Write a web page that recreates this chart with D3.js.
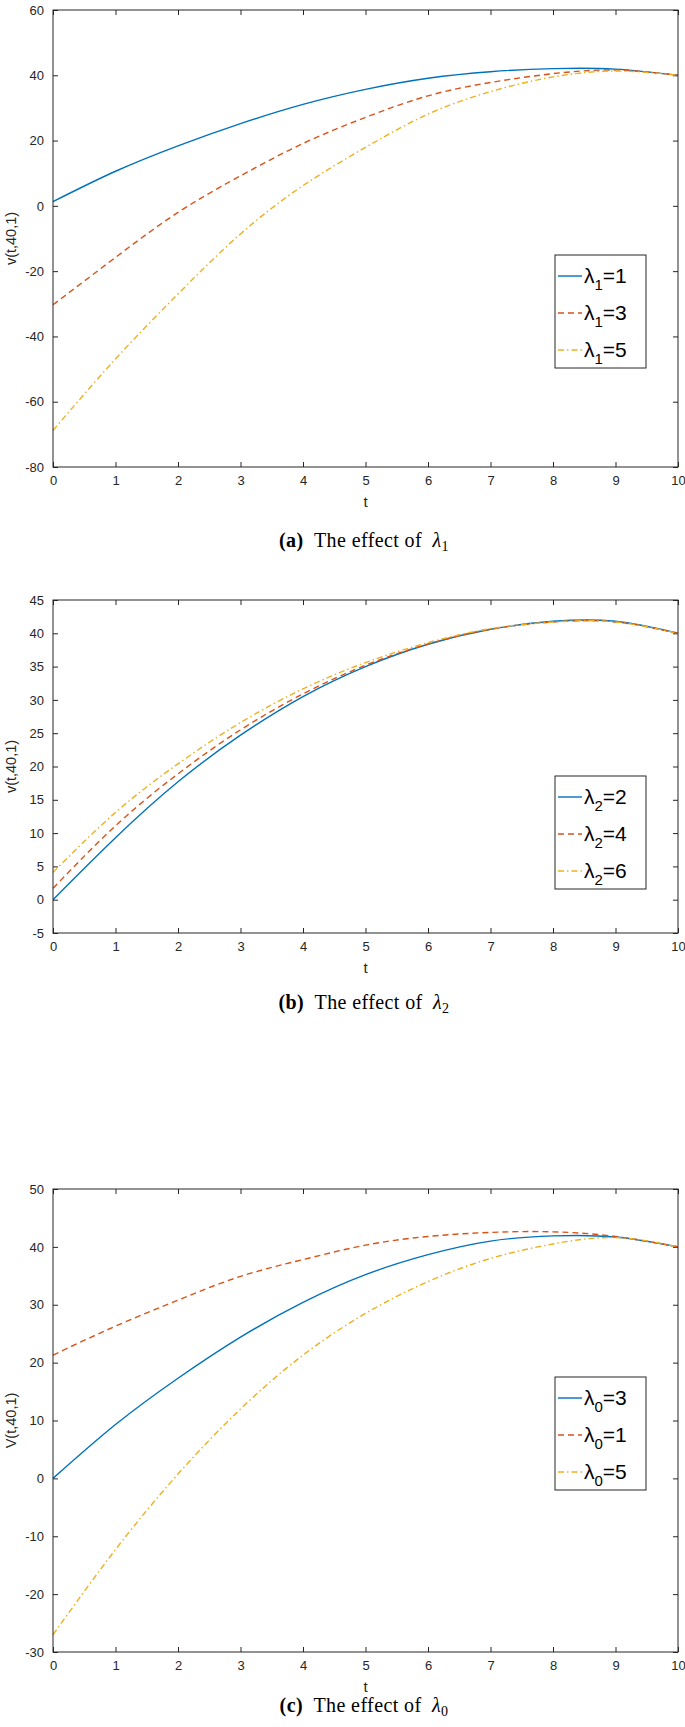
<!DOCTYPE html>
<html><head><meta charset="utf-8">
<script src="https://cdn.jsdelivr.net/npm/d3@7"></script>
<style>
body{margin:0;background:#fff;}
svg{display:block;}
</style></head>
<body>
<script>
// ---------- data ----------
const tValues = [0,1,2,3,4,5,6,7,8,9,10];
const xTicks = [0,1,2,3,4,5,6,7,8,9,10];

// panel (a): effect of lambda1
const aBlue   = [1.3, 10.6, 18.4, 25.2, 31.1, 35.7, 39.1, 41.1, 42.05, 41.9, 40.0];
const aRed    = [-30.3, -15.8, -2.0, 9.2, 19.1, 27.1, 33.7, 37.8, 40.5, 41.6, 40.0];
const aYellow = [-68.8, -46.9, -27.0, -8.6, 6.2, 17.9, 28.1, 35.0, 39.5, 41.3, 40.0];
const aYTicks = [-80,-60,-40,-20,0,20,40,60];
const aLegend = ["1","3","5"];

// panel (b): effect of lambda2
const bBlue   = [0.0, 9.3, 17.7, 24.7, 30.5, 35.0, 38.35, 40.6, 41.8, 41.8, 40.0];
const bRed    = [1.7, 11.1, 18.9, 25.5, 30.9, 35.2, 38.4, 40.6, 41.7, 41.7, 40.0];
const bYellow = [4.1, 13.1, 20.4, 26.6, 31.65, 35.6, 38.6, 40.7, 41.7, 41.7, 40.0];
const bYTicks = [-5,0,5,10,15,20,25,30,35,40,45];
const bLegend = ["2","4","6"];

// panel (c): effect of lambda0
const cBlue   = [0.0, 9.3, 17.3, 24.4, 30.4, 35.2, 38.65, 41.0, 41.9, 41.7, 40.0];
const cRed    = [21.3, 26.3, 30.8, 34.9, 37.8, 40.3, 41.8, 42.5, 42.6, 41.8, 40.0];
const cYellow = [-27.0, -12.3, 0.75, 12.0, 21.3, 28.5, 34.0, 38.0, 40.5, 41.6, 40.0];
const cYTicks = [-30,-20,-10,0,10,20,30,40,50];
const cLegend = ["3","1","5"];

const colors = ["#0072BD","#D95319","#EDB120"];
const dashes = [null, "6,4", "6,3,1.5,3"];

const W = 685, H = 1727;
const svg = d3.select("body").append("svg").attr("width",W).attr("height",H)
  .attr("font-family","'Liberation Sans', Arial, sans-serif");

function panel(o){
  const x = d3.scaleLinear().domain([0,10]).range([53, 678]);
  const y = d3.scaleLinear().domain([o.yTicks[0], o.yTicks[o.yTicks.length-1]]).range([o.bottom, o.top]);
  const g = svg.append("g");
  const fmt = d => String(d);

  const ax = g.append("g").attr("transform",`translate(0,${o.bottom})`)
    .call(d3.axisBottom(x).tickValues(xTicks).tickSize(-5).tickPadding(9).tickFormat(fmt));
  const axT = g.append("g").attr("transform",`translate(0,${o.top})`)
    .call(d3.axisTop(x).tickValues(xTicks).tickSize(-5).tickFormat(""));
  const ay = g.append("g").attr("transform",`translate(53,0)`)
    .call(d3.axisLeft(y).tickValues(o.yTicks).tickSize(-5).tickPadding(9).tickFormat(fmt));
  const ayR = g.append("g").attr("transform",`translate(678,0)`)
    .call(d3.axisRight(y).tickValues(o.yTicks).tickSize(-5).tickFormat(""));
  [ax,axT,ay,ayR].forEach(a=>{
    a.select(".domain").remove();
    a.selectAll("line").attr("stroke","#262626").attr("stroke-width",1);
    a.selectAll("text").attr("fill","#262626").attr("font-size",13).attr("font-family","'Liberation Sans', Arial, sans-serif");
  });

  const line = d3.line().x((d,i)=>x(tValues[i])).y(d=>y(d)).curve(d3.curveNatural);
  o.series.forEach((s,i)=>{
    g.append("path").datum(s).attr("d",line).attr("fill","none")
      .attr("stroke",colors[i]).attr("stroke-width",1.4)
      .attr("stroke-dasharray",dashes[i]);
  });

  g.append("rect").attr("x",53).attr("y",o.top).attr("width",625).attr("height",o.bottom-o.top)
    .attr("fill","none").attr("stroke","#262626").attr("stroke-width",1);

  g.append("text").attr("x",x(5)).attr("y",o.bottom+40).attr("text-anchor","middle")
    .attr("font-size",15).attr("fill","#262626").text("t");
  g.append("text").attr("transform",`translate(16,${(o.top+o.bottom)/2}) rotate(-90)`)
    .attr("text-anchor","middle").attr("font-size",14.5).attr("fill","#262626").text(o.ylabel);

  const lg = g.append("g");
  lg.append("rect").attr("x",555).attr("y",o.legTop).attr("width",91).attr("height",113)
    .attr("fill","#fff").attr("stroke","#262626").attr("stroke-width",1);
  o.legend.forEach((v,i)=>{
    const cy = o.legTop + 21 + i*37;
    lg.append("line").attr("x1",558).attr("x2",582).attr("y1",cy).attr("y2",cy)
      .attr("stroke",colors[i]).attr("stroke-width",1.4).attr("stroke-dasharray",dashes[i]);
    const t = lg.append("text").attr("x",584).attr("y",cy+7).attr("font-size",21).attr("fill","#000");
    t.append("tspan").text("λ");
    t.append("tspan").attr("font-size",15).attr("dy",7).text(o.sub);
    t.append("tspan").attr("dy",-7).text("=" + v);
  });

  const cap = g.append("text").attr("x",364).attr("y",o.capY).attr("text-anchor","middle")
    .attr("font-family","'Liberation Serif','DejaVu Serif',serif").attr("font-size",20)
    .attr("letter-spacing",0.4).attr("fill","#000");
  cap.append("tspan").attr("font-weight","bold").text("(" + o.letter + ")");
  cap.append("tspan").text("\u2002The effect of\u2002");
  cap.append("tspan").attr("font-style","italic").text("λ");
  cap.append("tspan").attr("font-size",14).attr("dy",4).text(o.sub);
}

panel({top:10, bottom:467, yTicks:aYTicks, series:[aBlue,aRed,aYellow], legend:aLegend, sub:"1",
  legTop:255, ylabel:"v(t,40,1)", capY:547, letter:"a"});
panel({top:600, bottom:933, yTicks:bYTicks, series:[bBlue,bRed,bYellow], legend:bLegend, sub:"2",
  legTop:776, ylabel:"v(t,40,1)", capY:1009, letter:"b"});
panel({top:1189, bottom:1652, yTicks:cYTicks, series:[cBlue,cRed,cYellow], legend:cLegend, sub:"0",
  legTop:1377, ylabel:"V(t,40,1)", capY:1712, letter:"c"});
</script>
</body></html>
